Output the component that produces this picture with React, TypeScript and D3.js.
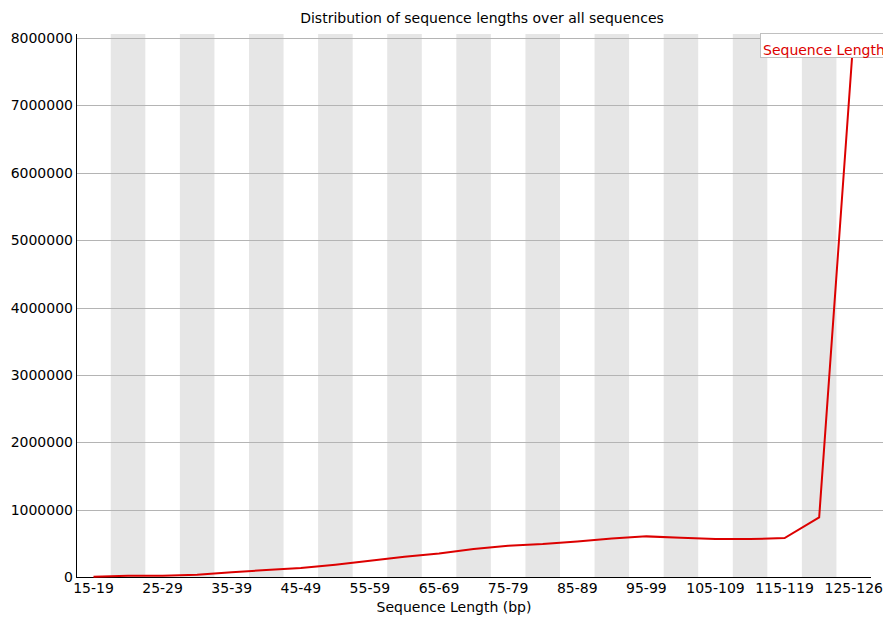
import React, { useEffect, useRef } from "react";
import * as d3 from "d3";

const categories = [
  "15-19", "20-24", "25-29", "30-34", "35-39", "40-44", "45-49", "50-54",
  "55-59", "60-64", "65-69", "70-74", "75-79", "80-84", "85-89", "90-94",
  "95-99", "100-104", "105-109", "110-114", "115-119", "120-124", "125-126",
];

const counts = [
  5000, 20000, 20000, 35000, 70000, 104000, 133000, 182000,
  242000, 301000, 350000, 415000, 464000, 489000, 528000, 573000,
  603000, 583000, 563000, 563000, 578000, 884000, 8060000,
];

const yTicks = [0, 1000000, 2000000, 3000000, 4000000, 5000000, 6000000, 7000000, 8000000];

const W = 883;
const H = 617;
const FONT = "DejaVu Sans, sans-serif";
const FS = 14;

const App = () => {
  const svgRef = useRef<SVGSVGElement>(null);

  useEffect(() => {
    const svg = d3.select(svgRef.current);
    svg.selectAll("*").remove();

    const left = 76.2, right = 871, top = 34, bottom = 577;

    const x = d3.scaleBand<string>().domain(categories).range([left, right]);
    const y = d3.scaleLinear().domain([0, d3.max(counts) as number]).range([bottom, top]);

    svg.append("rect").attr("width", W).attr("height", H).attr("fill", "#fff");

    // alternating grey bands
    svg.append("g")
      .selectAll("rect")
      .data(categories.filter((_, i) => i % 2 === 1))
      .enter()
      .append("rect")
      .attr("x", (d) => x(d) as number)
      .attr("y", top)
      .attr("width", x.bandwidth())
      .attr("height", bottom - top)
      .attr("fill", "#e6e6e6");

    // horizontal grid lines
    svg.append("g")
      .selectAll("line")
      .data(yTicks.slice(1))
      .enter()
      .append("line")
      .attr("x1", 77)
      .attr("x2", W)
      .attr("y1", (d) => Math.round(y(d)) + 0.5)
      .attr("y2", (d) => Math.round(y(d)) + 0.5)
      .attr("stroke", "#b4b4b4");

    // y labels
    svg.append("g")
      .selectAll("text")
      .data(yTicks)
      .enter()
      .append("text")
      .attr("x", 73)
      .attr("y", (d) => y(d) + 5)
      .attr("text-anchor", "end")
      .attr("font-family", FONT)
      .attr("font-size", FS)
      .attr("fill", "#000")
      .text((d) => String(d));

    // axes
    svg.append("line")
      .attr("x1", 76.5).attr("x2", 76.5)
      .attr("y1", top).attr("y2", bottom + 1)
      .attr("stroke", "#000");
    svg.append("line")
      .attr("x1", 76).attr("x2", right)
      .attr("y1", bottom + 0.5).attr("y2", bottom + 0.5)
      .attr("stroke", "#000");

    // x labels
    svg.append("g")
      .selectAll("text")
      .data(categories.filter((_, i) => i % 2 === 0))
      .enter()
      .append("text")
      .attr("x", (d) => (x(d) as number) + x.bandwidth() / 2)
      .attr("y", 593)
      .attr("text-anchor", "middle")
      .attr("font-family", FONT)
      .attr("font-size", FS)
      .attr("fill", "#000")
      .text((d) => d);

    // data line
    const line = d3.line<number>()
      .x((_, i) => (x(categories[i]) as number) + x.bandwidth() / 2)
      .y((d) => y(d));
    svg.append("path")
      .datum(counts)
      .attr("d", line)
      .attr("fill", "none")
      .attr("stroke", "#dc0000")
      .attr("stroke-width", 2)
      .attr("stroke-linejoin", "miter");

    // title
    svg.append("text")
      .attr("x", 482)
      .attr("y", 23)
      .attr("text-anchor", "middle")
      .attr("font-family", FONT)
      .attr("font-size", FS)
      .text("Distribution of sequence lengths over all sequences");

    // x axis title
    svg.append("text")
      .attr("x", 454)
      .attr("y", 612)
      .attr("text-anchor", "middle")
      .attr("font-family", FONT)
      .attr("font-size", FS)
      .text("Sequence Length (bp)");

    // legend
    svg.append("rect")
      .attr("x", 760.5)
      .attr("y", 33.5)
      .attr("width", 130)
      .attr("height", 24)
      .attr("fill", "#fff")
      .attr("stroke", "#c0c0c0");
    svg.append("text")
      .attr("x", 763)
      .attr("y", 55)
      .attr("font-family", FONT)
      .attr("font-size", FS)
      .attr("fill", "#dc0000")
      .text("Sequence Length");
  }, []);

  return (
    <svg
      ref={svgRef}
      width={W}
      height={H}
      style={{ position: "absolute", left: 0, top: 0, display: "block" }}
    />
  );
};

export default App;
